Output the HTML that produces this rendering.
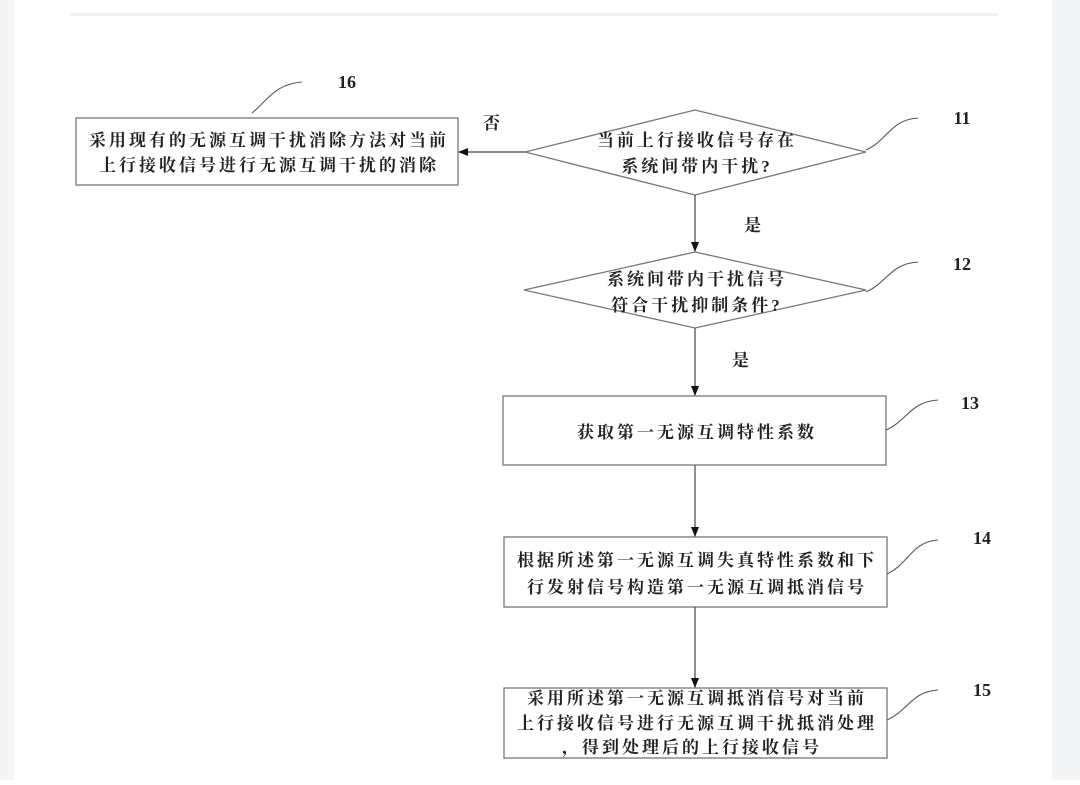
<!DOCTYPE html>
<html><head><meta charset="utf-8"><style>
html,body{margin:0;padding:0;background:#fff}
body{width:1080px;height:780px;position:relative;overflow:hidden}
svg text{font-family:"Liberation Serif","Noto Serif CJK SC",serif;font-weight:bold;fill:#222}
</style></head><body>
<svg width="1080" height="780" xmlns="http://www.w3.org/2000/svg">
<rect x="0" y="0" width="14" height="780" fill="#f4f5f7"/>
<rect x="1052" y="0" width="28" height="780" fill="#f4f5f7"/>
<rect x="70" y="13" width="928" height="3" fill="#eeeff1"/>
<defs><marker id="a" markerWidth="10" markerHeight="10" refX="9" refY="5" orient="auto" markerUnits="userSpaceOnUse"><path d="M0,1 L10,5 L0,9 z" fill="#111"/></marker></defs>
<g stroke="#777" stroke-width="1.3" fill="#fff">
<rect x="76" y="118" width="382" height="67"/>
<polygon points="525,152 695,110 866,152 695,195"/>
<polygon points="524,290 695,252 866,290 695,328"/>
<rect x="503" y="396" width="383" height="69"/>
<rect x="504" y="537" width="383" height="70"/>
<rect x="504" y="688" width="383" height="70"/>
</g>
<g stroke="#444" stroke-width="1.2" fill="none" marker-end="url(#a)">
<line x1="525" y1="152" x2="459" y2="152"/>
<line x1="695" y1="195" x2="695" y2="251"/>
<line x1="695" y1="328" x2="695" y2="395"/>
<line x1="695" y1="465" x2="695" y2="536"/>
<line x1="695" y1="607" x2="695" y2="687"/>
</g>
<g stroke="#555" stroke-width="1.1" fill="none">
<path d="M252,113 C268,100 275,84 302,82"/>
<path d="M866,150 C888,140 890,120 918,118"/>
<path d="M866,292 C888,282 890,264 918,262"/>
<path d="M886,430 C908,420 910,402 938,400"/>
<path d="M887,574 C909,564 911,542 938,540"/>
<path d="M887,720 C909,710 911,692 938,690"/>
</g>
<g font-size="18">
<text x="347" y="88" text-anchor="middle">16</text>
<text x="962" y="124" text-anchor="middle">11</text>
<text x="962" y="270" text-anchor="middle">12</text>
<text x="970" y="409" text-anchor="middle">13</text>
<text x="982" y="544" text-anchor="middle">14</text>
<text x="982" y="696" text-anchor="middle">15</text>
</g>
<g font-size="17" text-anchor="middle" letter-spacing="3">
<text x="493" y="129">否</text>
<text x="754" y="231">是</text>
<text x="742" y="366">是</text>
<text x="269" y="146">采用现有的无源互调干扰消除方法对当前</text>
<text x="269" y="171">上行接收信号进行无源互调干扰的消除</text>
<text x="697" y="146">当前上行接收信号存在</text>
<text x="697" y="172">系统间带内干扰?</text>
<text x="697" y="285">系统间带内干扰信号</text>
<text x="697" y="311">符合干扰抑制条件?</text>
<text x="697" y="438">获取第一无源互调特性系数</text>
<text x="697" y="566">根据所述第一无源互调失真特性系数和下</text>
<text x="697" y="593">行发射信号构造第一无源互调抵消信号</text>
<text x="697" y="704">采用所述第一无源互调抵消信号对当前</text>
<text x="697" y="729">上行接收信号进行无源互调干扰抵消处理</text>
<text x="692" y="753">，得到处理后的上行接收信号</text>
</g>
</svg>
</body></html>
